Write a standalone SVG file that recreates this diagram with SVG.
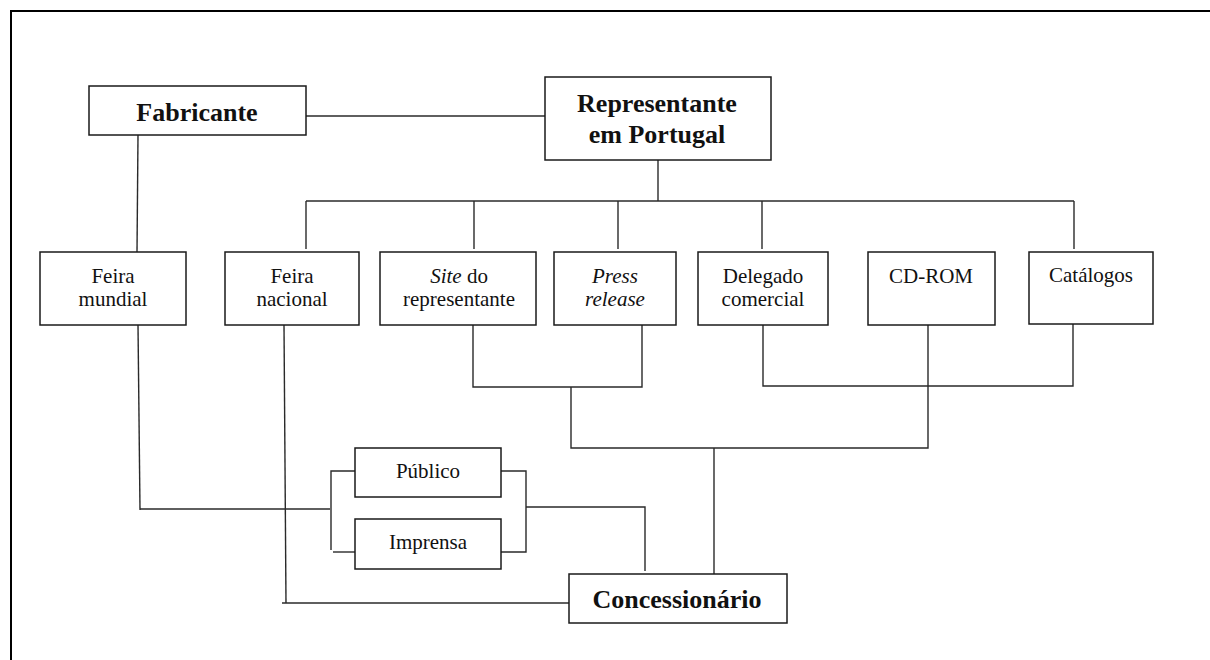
<svg xmlns="http://www.w3.org/2000/svg" width="1210" height="660" viewBox="0 0 1210 660">
<style>
.box{fill:#fff;stroke:#1a1a1a;stroke-width:1.5}
.ln{fill:none;stroke:#2a2a2a;stroke-width:1.4}
.frame{fill:none;stroke:#000;stroke-width:2}
.r{font-family:"Liberation Serif","Times New Roman",serif;font-size:21px;text-anchor:middle;fill:#111}
.b{font-family:"Liberation Serif","Times New Roman",serif;font-size:26px;font-weight:bold;text-anchor:middle;fill:#111}
.i{font-style:italic}
</style>
<rect width="1210" height="660" fill="#fff"/>
<path class="frame" d="M11,660 V11 H1210"/>
<g id="connectors">
<path class="ln" d="M306,116 H545"/>
<path class="ln" d="M138,135 L137,252"/>
<path class="ln" d="M658,160 V201"/>
<path class="ln" d="M306,201 H1074"/>
<path class="ln" d="M306,201 V249"/>
<path class="ln" d="M474,201 V249"/>
<path class="ln" d="M618,201 V249"/>
<path class="ln" d="M762,201 V249"/>
<path class="ln" d="M1074,201 V249"/>
<path class="ln" d="M473,325 V387 H642 V325"/>
<path class="ln" d="M763,325 V386 H1073 V324"/>
<path class="ln" d="M571,387 V448 H928 V325"/>
<path class="ln" d="M714,448 V574"/>
<path class="ln" d="M138,325 L140,510"/>
<path class="ln" d="M140,509 H330"/>
<path class="ln" d="M331,550 V471 H355"/>
<path class="ln" d="M333,552 H357"/>
<path class="ln" d="M284,325 L286,603"/>
<path class="ln" d="M282,603 H569"/>
<path class="ln" d="M501,471 H526 V552 H501"/>
<path class="ln" d="M526,507 H645 V571"/>
</g>
<g id="fabricante">
<rect class="box" x="89" y="86" width="217" height="49"/>
<text class="b" x="197" y="121">Fabricante</text>
</g>
<g id="representante">
<rect class="box" x="545" y="77" width="226" height="83"/>
<text class="b" x="657" y="112">Representante</text>
<text class="b" x="657" y="143">em Portugal</text>
</g>
<g id="feira-mundial">
<rect class="box" x="40" y="252" width="146" height="73"/>
<text class="r" x="113" y="283">Feira</text>
<text class="r" x="113" y="306">mundial</text>
</g>
<g id="feira-nacional">
<rect class="box" x="225" y="252" width="134" height="73"/>
<text class="r" x="292" y="283">Feira</text>
<text class="r" x="292" y="306">nacional</text>
</g>
<g id="site">
<rect class="box" x="380" y="252" width="156" height="73"/>
<text class="r" x="459" y="283"><tspan class="i">Site</tspan> do</text>
<text class="r" x="459" y="306">representante</text>
</g>
<g id="press">
<rect class="box" x="554" y="252" width="122" height="73"/>
<text class="r i" x="615" y="283">Press</text>
<text class="r i" x="615" y="306">release</text>
</g>
<g id="delegado">
<rect class="box" x="698" y="252" width="130" height="73"/>
<text class="r" x="763" y="283">Delegado</text>
<text class="r" x="763" y="306">comercial</text>
</g>
<g id="cdrom">
<rect class="box" x="868" y="252" width="127" height="73"/>
<text class="r" x="931" y="283">CD-ROM</text>
</g>
<g id="catalogos">
<rect class="box" x="1029" y="252" width="124" height="72"/>
<text class="r" x="1091" y="282">Catálogos</text>
</g>
<g id="publico">
<rect class="box" x="355" y="448" width="146" height="49"/>
<text class="r" x="428" y="478">Público</text>
</g>
<g id="imprensa">
<rect class="box" x="355" y="519" width="146" height="50"/>
<text class="r" x="428" y="549">Imprensa</text>
</g>
<g id="concessionario">
<rect class="box" x="569" y="574" width="218" height="49"/>
<text class="b" x="677" y="608">Concessionário</text>
</g>
</svg>
